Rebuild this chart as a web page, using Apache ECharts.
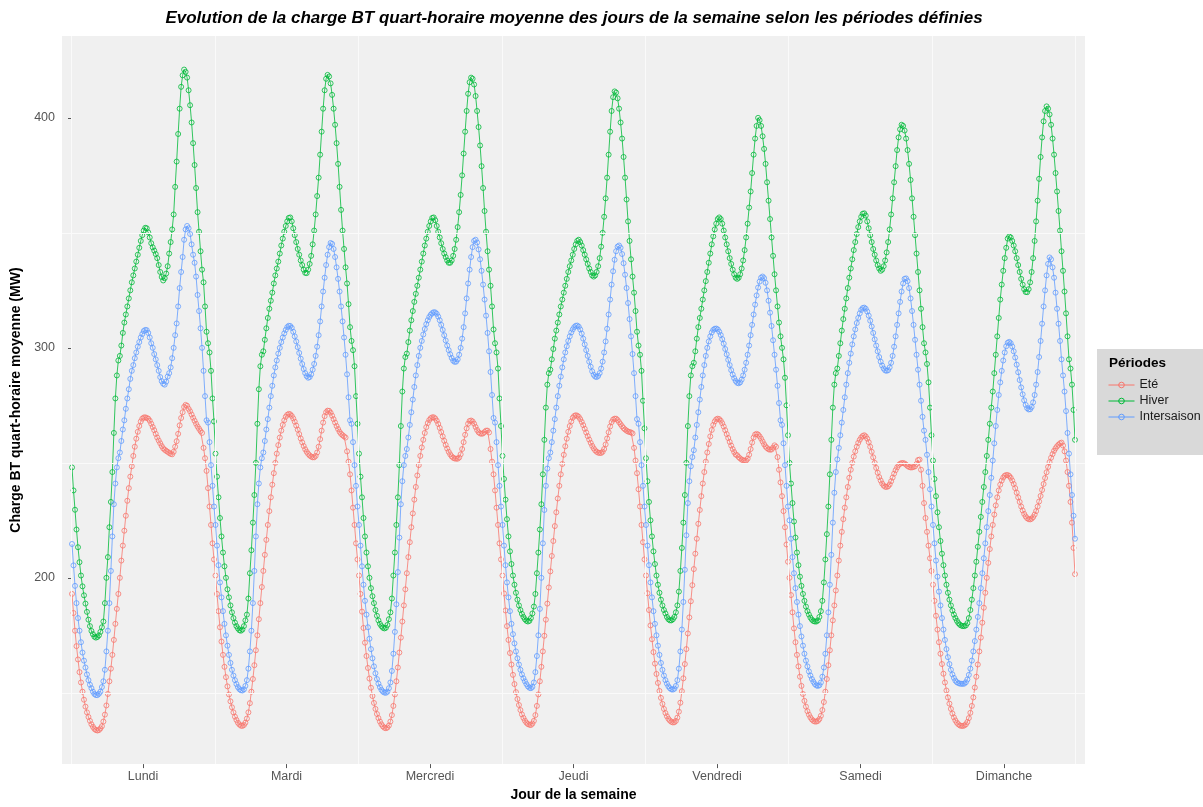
<!DOCTYPE html>
<html>
<head>
<meta charset="utf-8">
<script src="https://cdn.jsdelivr.net/npm/echarts@6/dist/echarts.min.js"></script>
<style>html,body{margin:0;padding:0;background:#fff}#chart{width:1203px;height:807px}</style>
</head>
<body>
<div id="chart"></div>
<script>
// ---- categories / ticks ----
const days = ['Lundi','Mardi','Mercredi','Jeudi','Vendredi','Samedi','Dimanche'];
const periods = ['Eté','Hiver','Intersaison'];
const yTicks = [200, 300, 400];
const yMinorGrid = [150, 250, 350];
const pointsPerDay = 96; // quarter-hours

// ---- Eté (summer) : 96 quarter-hour values per day ----
const eteLundi = [193,184.7,177,170.3,164.5,159,154.5,150.5,147,144,141.5, 139.5,137.8,136.3,135.2,134.3,133.8,133.6,133.8,134.5,135.5, 137.5,140.5,144.5,149.5,155,160.5,166.5,173,180,186.5, 193,200,207.5,214,220.5,227,233.5,239,244,248.5, 253,257,260.5,263.5,266,268,269.2,269.7,269.8,269.5, 269.2,268.3,267,265.6,264.2,262.6,261,259.7,258.5,257.3, 256.3,255.7,255.2,254.8,254.3,253.9,253.7,254.8,257,259.4, 262.6,266.3,269.5,272,274.3,275.2,274.8,273.5,272.4,271, 269.6,268.3,267,265.8,264.8,263.8,263,256.5,252,246.5, 239,231,223,215,208];
const eteMardi = [201,193,185.5,178.5,172.3,166.5,161.3,156.8,152.8,149.3,146.3, 143.7,141.5,139.6,138.2,137,136.2,135.7,135.6,136,137, 138.8,141.5,145.5,150.5,156,162,168.5,175,182,189, 196,203,210,216.5,223,229,235,240.5,245.5,250, 254,257.7,261,264,266.5,268.5,270,270.9,271.3,271.1, 270.4,269.3,267.9,266.2,264.4,262.5,260.6,258.9,257.3,255.9, 254.8,253.9,253.2,252.7,252.4,252.4,253,254.5,257,260.3, 264,267.5,270.3,272,272.7,272.6,271.8,270.5,269,267.5, 266,264.7,263.5,262.6,262,261.5,261,255,250.5,245, 238,230.5,223,215,208];
const eteMercredi = [201,193,185.3,178.2,171.8,166,160.8,156.2,152.2,148.6,145.6, 143,140.8,139,137.5,136.3,135.4,134.8,134.6,134.9,135.8, 137.5,140.3,144.3,149.3,155,161,167.5,174,181,188, 195,202,209,215.5,222,228,234,239.5,244.5,249, 253,256.7,260,263,265.5,267.3,268.6,269.4,269.8,269.8, 269.3,268.3,266.9,265.2,263.4,261.5,259.6,257.8,256.2,254.8, 253.7,252.8,252.2,251.9,251.8,251.8,252.3,253.7,256,259, 262.2,265,267,268.2,268.4,268,267,265.6,264.3,263.3, 262.8,262.6,262.8,263.4,264,264,263.2,256,250.5,245, 238,230.5,223,215,208];
const eteJeudi = [201,193.2,185.8,179,173,167.3,162.3,157.8,153.8,150.3,147.3, 144.7,142.5,140.6,139.1,137.9,137,136.4,136.1,136,136.6, 137.8,140.3,144.3,149.3,155,161.3,168,174.8,181.8,188.8, 195.8,202.8,209.5,216,222.5,228.5,234.5,240,245,249.5, 253.5,257.2,260.5,263.5,266,268,269.6,270.4,270.7,270.5, 270,269,267.8,266.4,264.8,263.2,261.6,260.1,258.7,257.4, 256.3,255.4,254.8,254.4,254.3,254.3,254.8,256,258,260.6, 263.3,265.8,267.7,268.8,269.2,269.2,268.6,267.7,266.8,265.9, 265.1,264.5,264,263.6,263.4,263.2,262.8,256.5,251,245.5, 238.5,231,223,215.5,208];
const eteVendredi = [201,193.3,186,179.3,173.3,167.7,162.7,158.2,154.3,150.8,147.8, 145.2,143,141.2,139.8,138.7,137.9,137.4,137.1,137.2,137.8, 139.2,141.8,145.7,150.7,156.3,162.5,169,175.8,182.8,189.8, 196.8,203.8,210.5,217,223.5,229.5,235.5,241,246,250.5, 254.5,258.2,261.5,264.3,266.5,268,268.9,269.2,269,268.3, 267.2,265.8,264.2,262.5,260.8,259.1,257.5,256,254.7,253.6, 253.3,252.5,251.9,251.4,251.1,251,251,251.8,253.5,256, 258.8,261,262.3,262.6,262.3,261.5,260.5,259.3,258.1,257.1, 256.4,255.9,255.7,255.8,256.6,257.6,257,252.5,247,241.5, 235.5,229,222,214.5,207];
const eteSamedi = [200,192.5,185,178,172,166.5,161.5,157,153,149.5,146.5, 144,142,140.5,139.3,138.4,137.8,137.5,137.5,137.8,138.6, 140,142.5,146,150.5,156,162,168.5,175,181.5,188, 194.5,201,207.5,214,220,225.5,230.5,235,239.5,243.5, 247,250,252.7,255,257,258.7,260,261,261.7,262, 261.5,260.5,259,257,254.8,252.4,250,247.8,245.7,243.8, 242.3,241,240.1,239.6,239.5,239.8,240.6,242,243.6,245.3, 246.8,248,249,249.6,249.9,249.9,249.7,249.2,248.6,248.2, 248,248,248.2,248.5,249.5,251.2,251.4,247,240,232.5, 226,220,214,208.5,203];
const eteDimanche = [197,190,183.5,177.5,172,167,162.5,158.3,154.5,151,148, 145.3,143,141,139.3,138,137,136.3,135.8,135.6,135.6, 135.8,136.3,137.3,139,141.3,144.3,148,152.3,157,162.3, 168,174,180.5,187,193.5,200,206.5,212.5,218,223, 227.5,231.5,235,238,240.5,242.3,243.6,244.4,244.7,244.7, 244.3,243.5,242.3,240.8,239,237,235,233,231,229.3, 227.8,226.7,225.9,225.5,225.4,225.7,226.4,227.5,229,231, 233.2,235.6,238.2,240.8,243.4,245.9,248.2,250.3,252.2,253.8, 255.2,256.3,257.2,257.9,258.5,258.8,257.5,255,251,246, 240,233,224,213,201.6];

// ---- Hiver (winter) ----
const hiverLundi = [248,238,229.6,221,213.3,206.8,201,196.3,192.4,188.8,185.2, 181.8,179,176.9,175.5,174.4,174,174.3,175,176.5,178.5, 181,189,200,209,222,233,246,263,278,288, 294.5,296.5,301,306.5,311,314.5,318,321.5,325,328.5, 331.5,334.5,337.5,340.5,343.5,346.5,349,351,352.2,352, 350.2,348,345.5,343.7,342.3,340.8,339,336,333,330.8, 329.3,330.3,332.3,335.5,341,346,351.5,358,370,381, 393,404,413.5,418.5,421,420,417.5,412,405.5,398, 389,379.5,369.5,359,350.5,342,334,328.5,318,307, 302,298,290,278,268];
const hiverMardi = [254,244,235,226,218,211,205,200,195,191.5,188, 185,182.5,180.5,179,178,177.2,177,177.5,179,181.5, 184,191,202,212,224,236,250,267,282,292, 297,298.5,303.5,308.5,313,317,320.5,324,328,331.5, 334.5,337.5,341,344.5,347.5,350.5,353,355,356.5,356.7, 355,352,349,346,343,340.5,338,336,334,332.6, 332.5,334,336.5,340,345,351,358,366,374,384, 394,404,412,417,418.7,418,415,410,404,397, 389,380,370,360,351,343,335,328,319,309, 303,299,292,279,267];
const hiverMercredi = [254,244,235,226,218,211,205,200,195.5,192,189, 186,183.5,181.5,180,179,178.3,178,178.3,179.5,182, 185,191,201,211,223,235,249,266,281,291, 296,297.5,302.5,307.5,312,316,320,323.5,327,330.5, 334,337.5,341,344.5,347.5,350.5,353,355,356.5,356.7, 355.5,353,350.5,348,345.5,343,341,339.5,338,337, 337,338,340,343,347,352.5,359,366.5,375,384.5, 394,403,410.5,415.5,417.5,417,414.5,409.5,403,396, 388,379,369.5,359.5,350.5,342,334,327,318,308, 302,298,291,278,266];
const hiverJeudi = [253,243,234,225.5,218,211.5,206,201,197,193.5,190.5, 188,186,184.3,183,182,181.3,181,181.3,182.5,184.5, 187.5,193,202,211,221,232,245,260,274,284, 289,290.5,295,299.5,304,307.5,311,314.5,318,321, 324,327,330,333,335.5,338,340.5,343,345,346.5, 347,346,344.5,342.5,340.5,338.5,336.5,334.5,333,331.5, 331,331.5,333,335.5,339,344,350,357,365,374, 384,394,403,409,411.5,411,408.5,404,398,391, 383,374,364.5,355,346.5,338.5,331,324,316,307, 301,297,290,277,265];
const hiverVendredi = [252,242,233,225,218,211.5,206,201,197,193.5,190.5, 188,186,184.5,183,182,181.5,181.5,182,183,185, 188,194,203,213,224,236,250,266,279,288, 292,293.5,298.5,304,309,313,317,321,325,329, 333,337,341,345,348.5,351.5,354,356,356.7,356, 354,351,348,345,342,339,336.5,334,332,330.5, 330,330.5,332,334.5,338,342.5,348,354,361,368, 376,384,391,396.5,400,399,396.5,392,386.5,380, 372,364,356,348,340,332,325,318,311,305, 300,295,287,275,262];
const hiverSamedi = [250,241,232.5,224.5,217.5,211,205.5,200.5,196.5,193,190, 187.5,185.5,184,182.7,181.8,181.2,181,181,181.5,183, 185.5,190,198,208,219,231,245,260,274,284, 289,291,296.5,302,307.5,312.5,317,321.5,326,330.5, 334.5,338.5,342.5,346,349.5,352.5,355,357,358.3,358.5, 357.5,355,352,349,346,343,340.5,338,336,334.5, 333.5,334,335.5,338,341.5,346,351.5,358,365,372, 379,386,391.5,395,397,396.5,394.5,391,386,380, 373,365,357,349,341,333,325,317,309,302, 298,293,285,274,262];
const hiverDimanche = [251,243,235.5,228.5,222,216,210.5,205.5,201,197,193.5, 190.5,188,185.8,184,182.5,181.3,180.3,179.6,179.2,179, 179,179.3,180.3,182.5,186,190.5,195.5,201,207,213.5, 220,226.5,233,239.5,246,253,260,267,274,281, 289,297,305,313,321,327.5,333.5,339,343.5,347.5, 348.4,348,346.5,344.5,342,339,336,333,330,327.5, 325.5,324.3,324.2,325.5,328.5,333,339,346.5,355,364, 373.5,383,391.5,398.5,403,405,404,401.5,397,391, 384,376,368,359.5,351,342,333.5,324.5,315,305, 295,291,284,273,260];

// ---- Intersaison ----
const interLundi = [214.7,205.4,196.5,189,182.5,177,172,167.5,164,161,158, 155.5,153.5,152,150.5,149.5,149,149,149.6,150.5,152.5, 155,160,168,177,189,203,218,232,241,248, 252,254.5,259.5,264.5,268.5,273.5,278,282,286.5,290, 292.5,295.5,298,300.5,302.5,304.5,306,307.3,307.8,307.7, 306.5,304.5,302,300,297.3,295,292.5,290,287.3,285.5, 284.4,284,285.3,287.5,289,291.5,295.5,300,305.5,310.6, 318,326,333,339.5,347,351.5,353,352,349.5,345, 340.5,337,331,323,316,308.5,300,290,279,268.5, 267.5,259,249,240,231];
const interMardi = [223,214,205.5,198,191.5,185.5,180,175,170.5,166.5,163, 160,157.5,155.5,153.8,152.5,151.6,151.1,151,151.5,153, 155.5,160.5,168,177,189,203,218,232,241,248, 252,254.5,259.5,264.5,269,274,279,283.5,288,291.5, 294.5,297.5,300,302.5,304.5,306.3,307.8,309,309.6,309.5, 308.7,307,305,302.8,300.3,297.8,295.3,293,290.8,289, 287.7,287,287.3,288.5,290.5,293,296.5,300.5,305.5,311.5, 318,324.5,330.5,336,340.5,343.8,345.6,345.2,343,339.5, 335,330,324.5,318,311.5,304.5,297,288.5,278.5,268.5, 267,259,249,240,231];
const interMercredi = [223,214,205,197,190,184,178.5,173.5,169,165,161.5, 158.5,156,154,152.5,151.3,150.5,150.1,150,150.5,152, 154.5,159.5,167,176.5,188.5,202.5,217.5,232,242,249, 253,256,261,266.5,272,277.5,283,288,292.5,296.5, 300,303,305.8,308.2,310.3,312,313.4,314.4,315.1,315.5, 315.4,314.8,313.6,312,310,307.8,305.5,303.2,301,299, 297.2,295.6,294.4,293.9,294,295,297,300,304,309, 315,321.5,328,334,339.5,343.8,346.5,347,345.8,342.8, 338.5,333.5,327.5,321,314,306.5,298.5,289.5,279.5,269.5, 267.5,259,249,240,231];
const interJeudi = [223,214,205.5,198,191.5,185.5,180,175.5,171.5,168,165, 162.3,160,158,156.3,155,153.8,152.8,152.2,152,152.6, 154.5,159,166,175,186.5,200,215,229.5,240,247.5, 252,254.5,259,264,269,274,279,283.5,287.5,291.5, 295,298,300.7,303,305,306.7,308,309,309.6,309.7, 309.2,308,306.2,304,301.5,299,296.5,294,291.8,289.8, 288.3,287.5,287.3,287.8,289,291,294,298,302.8,308.3, 314.5,321,327.5,333.3,338.3,342,344,344.5,343.5,340.8, 336.8,331.8,326,319.5,312.5,305,297.3,289,279,269, 267,259,249,240,231];
const interVendredi = [223,214,205.5,198,191.5,185.5,180,175,170.5,166.5,163, 160,157.5,155.5,154,152.8,152,151.5,151.4,151.8,153, 155.5,160.5,168,177.5,189.5,203.5,218.5,232.5,242,248.5, 252.5,255.5,261,266.5,272,277.5,283,288,292.5,296.5, 300,302.8,305,306.7,307.8,308.3,308.4,308,307,305.6, 303.8,301.8,299.5,297.2,294.8,292.5,290.3,288.4,286.8,285.6, 284.8,284.6,285,286.2,288,290.5,293.5,297,301,305.5, 310,314.5,318.8,322.8,326.2,328.8,330.5,331,330.3,328.3, 325,320.5,315.3,309.5,303.3,297,290.5,283.5,276,268.5, 266.5,258.5,249,240,231];
const interSamedi = [225,217,209,202,195.5,189.5,184,179,174.5,170.5,167, 164,161.5,159.3,157.5,156,154.8,153.8,153.2,153,153.3, 154.5,157,161,167,175,185,197,210,224,237, 246,251.5,256.5,262,267.5,273,278.5,284,289,293.5, 297.5,301.5,305,308,310.8,313,315,316.5,317.3,317.5, 317,315.8,314,311.8,309.3,306.5,303.7,301,298.5,296, 294,292.3,291,290.2,290,290.3,291.5,293.5,296.5,300.5, 305,310,315,320,324.5,328,330,330.2,329,326, 321.5,316,310,303.5,297,290.5,284,277,270,264, 260,253.5,246,238.5,231];
const interDimanche = [223,215,207.5,200.5,194,188,182.5,177.5,173,169,165.5, 162.5,160,158,156.5,155.3,154.6,154.2,154,153.9,153.9, 154,154.6,155.8,157.8,160.5,164,168,172.5,177.5,183, 189,195.5,202,208.5,215,222,229,236,243.5,251, 258.5,266,273,279.5,285,290,294.5,298,300.7,302.2, 302.6,302,300.6,298.5,295.8,292.7,289.4,286,282.8,279.8, 277.2,275.2,273.8,273.2,273.3,274.3,276.3,279.5,284,289.5, 296,303,310.5,318,325,331.5,336.5,339.3,338.5,335, 330.5,324,317,310.5,303,295,288,281,272.5,263, 254,245,236,227,217];

const eteDays = [eteLundi, eteMardi, eteMercredi, eteJeudi, eteVendredi, eteSamedi, eteDimanche];
const hiverDays = [hiverLundi, hiverMardi, hiverMercredi, hiverJeudi, hiverVendredi, hiverSamedi, hiverDimanche];
const interDays = [interLundi, interMardi, interMercredi, interJeudi, interVendredi, interSamedi, interDimanche];

[eteDays, hiverDays, interDays].forEach((s, i) => s.forEach((a, d) => {
  if (a.length !== pointsPerDay) console.error('length', i, d, a.length);
}));

function toSeries(dayArrays) {
  const out = [];
  dayArrays.forEach((arr, d) => arr.forEach((v, q) => out.push([d * pointsPerDay + q, v])));
  return out;
}
const dayCenters = days.map((_, d) => d * pointsPerDay + (pointsPerDay - 1) / 2);
const dayBounds = days.concat(['']).map((_, d) => d * pointsPerDay - 0.5);

const FONT = '"Liberation Sans", Arial, Helvetica, sans-serif';
const colors = {'Eté': '#F8766D', 'Hiver': '#00BA38', 'Intersaison': '#619CFF'};
const seriesData = {'Eté': eteDays, 'Hiver': hiverDays, 'Intersaison': interDays};

const chart = echarts.init(document.getElementById('chart'), null, {renderer: 'canvas'});

const lineSeries = periods.map((p, i) => ({
  name: p,
  type: 'line',
  data: toSeries(seriesData[p]),
  color: colors[p],
  symbol: 'circle',
  symbolSize: 5,
  showSymbol: true,
  showAllSymbol: true,
  lineStyle: {width: 0.8, color: colors[p]},
  itemStyle: {color: 'rgba(255,255,255,0)', borderColor: colors[p], borderWidth: 0.8},
  emphasis: {disabled: true},
  silent: true,
  z: 3 + i
}));

const gridHelper = {
  name: 'grid',
  type: 'line',
  data: [],
  silent: true,
  z: 1,
  markLine: {
    silent: true,
    symbol: ['none', 'none'],
    label: {show: false},
    lineStyle: {color: '#fafafa', width: 1, type: 'solid'},
    emphasis: {disabled: true},
    data: yMinorGrid.map(v => ({yAxis: v})).concat(dayBounds.map(v => ({xAxis: v})))
  }
};

chart.setOption({
  backgroundColor: '#ffffff',
  animation: false,
  textStyle: {fontFamily: FONT},
  grid: {left: 62, top: 36, width: 1023, height: 732, show: true, backgroundColor: '#f0f0f0', borderWidth: 0, containLabel: false},
  xAxis: {
    type: 'value', min: -6.7, max: 677.7,
    axisLine: {show: false},
    splitLine: {show: false},
    axisTick: {show: true, customValues: dayCenters, length: 4, lineStyle: {color: '#555555'}},
    axisLabel: {customValues: dayCenters, margin: 6, color: '#555555', fontSize: 12.5, fontFamily: FONT,
      formatter: v => days[Math.round((v - (pointsPerDay - 1) / 2) / pointsPerDay)] || ''},
    name: 'Jour de la semaine', nameLocation: 'middle', nameGap: 23,
    nameTextStyle: {fontWeight: 'bold', fontSize: 14, color: '#000', fontFamily: FONT}
  },
  yAxis: {
    type: 'value', min: 119, max: 435.6,
    axisLine: {show: false},
    splitLine: {show: false},
    axisTick: {show: true, customValues: yTicks, length: 4, lineStyle: {color: '#555555'}},
    axisLabel: {customValues: yTicks, margin: 7, color: '#555555', fontSize: 12.5, fontFamily: FONT},
    name: 'Charge BT quart-horaire moyenne (MW)', nameLocation: 'middle', nameGap: 37, nameRotate: 90,
    nameTextStyle: {fontWeight: 'bold', fontSize: 14, color: '#000', fontFamily: FONT}
  },
  legend: {
    data: periods,
    orient: 'vertical',
    left: 1097, top: 349,
    padding: [29, 20, 31, 11],
    backgroundColor: '#d9d9d9',
    itemWidth: 26, itemHeight: 7, itemGap: 2,
    selectedMode: false,
    itemStyle: {color: 'rgba(255,255,255,0)', borderColor: 'inherit', borderWidth: 1},
    lineStyle: {width: 1},
    textStyle: {fontSize: 12.5, lineHeight: 14, color: '#1a1a1a', fontFamily: FONT}
  },
  graphic: [
    {type: 'text', x: 574, y: 18, silent: true,
     style: {text: 'Evolution de la charge BT quart-horaire moyenne des jours de la semaine selon les périodes définies',
       font: 'italic bold 17px ' + FONT, fill: '#000', align: 'center', verticalAlign: 'middle'}},
    {type: 'text', x: 1109, y: 363, silent: true, z: 100,
     style: {text: 'Périodes', font: 'bold 13.5px ' + FONT, fill: '#000', align: 'left', verticalAlign: 'middle'}}
  ],
  series: [gridHelper].concat(lineSeries)
});
</script>
</body>
</html>
